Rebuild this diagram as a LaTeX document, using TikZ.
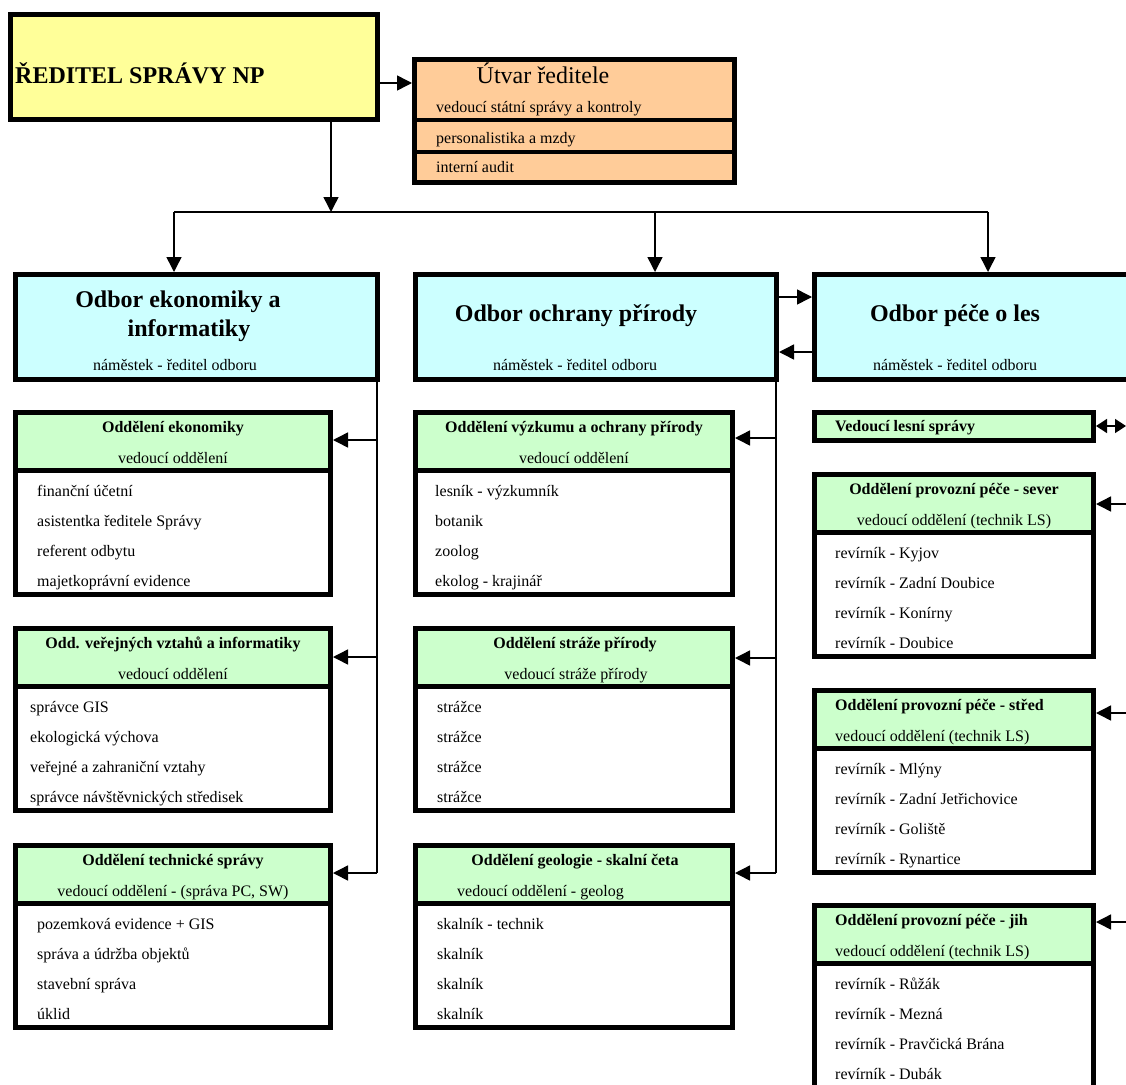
\documentclass[tikz,border=0pt]{standalone}
\usepackage{fontspec}
\setmainfont{Liberation Serif}
\usetikzlibrary{positioning, arrows.meta}

\definecolor{dirfill}{HTML}{FFFF99}
\definecolor{utvarfill}{HTML}{FFCC99}
\definecolor{odborfill}{HTML}{CCFFFF}
\definecolor{headfill}{HTML}{CCFFCC}

\begin{document}
\begin{tikzpicture}[x=1pt, y=-1pt,
    deptframe/.style={draw, line width=5pt, inner sep=0pt, anchor=north west},
    wire/.style={line width=1.5pt},
    link/.style={line width=1.5pt, -{Triangle[length=15pt, width=15pt]}},
    bigtext/.style={font=\bfseries\fontsize{24}{28}\selectfont, inner sep=0pt, anchor=base},
    headtext/.style={font=\bfseries\fontsize{16}{18}\selectfont, inner sep=0pt, anchor=base},
    subtext/.style={font=\fontsize{16}{18}\selectfont, inner sep=0pt, anchor=base},
    itemtext/.style={font=\fontsize{16}{18}\selectfont, inner sep=0pt, anchor=base west}]

    \useasboundingbox (0,0) rectangle (1126,1084);
    \clip (0,0) rectangle (1126,1084);

    % Draw director and his staff unit
    \node[deptframe, fill=dirfill, minimum width=367pt, minimum height=105pt] (dir) at (8,12) {};
    \node[bigtext, anchor=base west] (dirname) at (15,83) {ŘEDITEL SPRÁVY NP};

    \node[deptframe, fill=utvarfill, minimum width=320pt, minimum height=123pt] (utvar) at (412,57) {};
    \draw[line width=4pt] (utvar.west |- 0,120) -- (utvar.east |- 0,120);
    \draw[line width=4pt] (utvar.west |- 0,152) -- (utvar.east |- 0,152);
    \node[font=\fontsize{24}{28}\selectfont, inner sep=0pt, anchor=base] (utvarname) at (543,83) {Útvar ředitele};
    \node[itemtext] (utvar-1) at (436,112) {vedoucí státní správy a kontroly};
    \node[itemtext] (utvar-2) at (436,143) {personalistika a mzdy};
    \node[itemtext] (utvar-3) at (436,172) {interní audit};

    % Draw the three departments
    \node[deptframe, fill=odborfill, minimum width=362pt, minimum height=105pt] (odekon) at (13,272) {};
    \node[deptframe, fill=odborfill, minimum width=361pt, minimum height=105pt] (odochr) at (413,272) {};
    \node[deptframe, fill=odborfill, minimum width=330pt, minimum height=105pt] (odpece) at (812,272) {};

    \node[bigtext] (odekon-t1) at (178,307) {Odbor ekonomiky a};
    \node[bigtext] (odekon-t2) at (189,336) {informatiky};
    \node[subtext] (odekon-s) at (175,370) {náměstek - ředitel odboru};
    \node[bigtext] (odochr-t) at (576,321) {Odbor ochrany přírody};
    \node[subtext] (odochr-s) at (575,370) {náměstek - ředitel odboru};
    \node[bigtext] (odpece-t) at (955,321) {Odbor péče o les};
    \node[subtext] (odpece-s) at (955,370) {náměstek - ředitel odboru};

    % Connectors from the director
    \coordinate (fork) at (331,212);
    \coordinate (forkL) at (174,212);
    \coordinate (forkM) at (655,212);
    \coordinate (forkR) at (988,212);
    \draw[link] (dir.east |- 0,83) -- (utvar.west |- 0,83);
    \draw[link] (dir.south -| fork) -- (fork);
    \draw[wire] (forkL) -- (forkR);
    \foreach \c/\n in {forkL/odekon, forkM/odochr, forkR/odpece}
      \draw[link] (\c) -- (\c |- \n.north);

    \draw[link] (odochr.east |- 0,297) -- (odpece.west |- 0,297);
    \draw[link] (odpece.west |- 0,352) -- (odochr.east |- 0,352);

    % Draw the sections (header + four rows)
    \foreach \n/\x/\y/\w in {ekon/13/410/320, verej/13/626/320, tech/13/843/320,
                             vyzk/413/410/322, straz/413/626/322, geol/413/843/322,
                             sever/812/472/284, stred/812/688/284, jih/812/903/284} {
      \fill[headfill] (\x,\y) rectangle ++(\w,61);
      \node[deptframe, minimum width=\w*1pt-5pt, minimum height=182pt] (\n) at (\x,\y) {};
      \draw[line width=5pt] (\x,\y+60) -- ++(\w,0);
    }

    \node[deptframe, fill=headfill, minimum width=279pt, minimum height=28pt] (vedls) at (812,410) {};
    \node[headtext, anchor=base west] (vedls-t) at (835,431) {Vedoucí lesní správy};

    % Section headers
    \node[headtext] (ekon-t) at (173,432) {Oddělení ekonomiky};
    \node[subtext] (ekon-s) at (173,463) {vedoucí oddělení};
    \node[headtext] (verej-t) at (173,648) {Odd. veřejných vztahů a informatiky};
    \node[subtext] (verej-s) at (173,679) {vedoucí oddělení};
    \node[headtext] (tech-t) at (173,865) {Oddělení technické správy};
    \node[subtext] (tech-s) at (173,896) {vedoucí oddělení - (správa PC, SW)};
    \node[headtext] (vyzk-t) at (574,432) {Oddělení výzkumu a ochrany přírody};
    \node[subtext] (vyzk-s) at (574,463) {vedoucí oddělení};
    \node[headtext] (straz-t) at (575,648) {Oddělení stráže přírody};
    \node[subtext] (straz-s) at (576,679) {vedoucí stráže přírody};
    \node[headtext] (geol-t) at (575,865) {Oddělení geologie - skalní četa};
    \node[itemtext] (geol-s) at (457,896) {vedoucí oddělení - geolog};
    \node[headtext] (sever-t) at (954,494) {Oddělení provozní péče - sever};
    \node[subtext] (sever-s) at (954,525) {vedoucí oddělení (technik LS)};
    \node[headtext, anchor=base west] (stred-t) at (835,710) {Oddělení provozní péče - střed};
    \node[itemtext] (stred-s) at (835,741) {vedoucí oddělení (technik LS)};
    \node[headtext, anchor=base west] (jih-t) at (835,925) {Oddělení provozní péče - jih};
    \node[itemtext] (jih-s) at (835,956) {vedoucí oddělení (technik LS)};

    % Staff of each section
    \foreach \n/\x/\y/\items in {
        ekon/37/410/{finanční účetní, asistentka ředitele Správy, referent odbytu, majetkoprávní evidence},
        verej/30/626/{správce GIS, ekologická výchova, veřejné a zahraniční vztahy, správce návštěvnických středisek},
        tech/37/843/{pozemková evidence + GIS, správa a údržba objektů, stavební správa, úklid},
        vyzk/435/410/{lesník - výzkumník, botanik, zoolog, ekolog - krajinář},
        straz/437/626/{strážce, strážce, strážce, strážce},
        geol/437/843/{skalník - technik, skalník, skalník, skalník},
        sever/835/472/{revírník - Kyjov, revírník - Zadní Doubice, revírník - Konírny, revírník - Doubice},
        stred/835/688/{revírník - Mlýny, revírník - Zadní Jetřichovice, revírník - Goliště, revírník - Rynartice},
        jih/835/903/{revírník - Růžák, revírník - Mezná, revírník - Pravčická Brána, revírník - Dubák}}
      \foreach \t [count=\i] in \items
        \node[itemtext] (\n-\i) at (\x,\y+55.7+30.3*\i) {\t};

    % Connectors to the sections
    \coordinate (spineL) at (377,0);
    \coordinate (spineM) at (776,0);
    \draw[wire] (odekon.south -| spineL) -- (spineL |- 0,873);
    \draw[wire] (odochr.south -| spineM) -- (spineM |- 0,873);
    \foreach \s/\n/\y in {spineL/ekon/440, spineL/verej/657, spineL/tech/873,
                          spineM/vyzk/438, spineM/straz/658, spineM/geol/873}
      \draw[link] (\s |- 0,\y) -- (\n.east |- 0,\y);

    \foreach \n/\y in {sever/504, stred/713, jih/922} {
      \coordinate (\n-in) at (1126,\y);
      \draw[link] (\n-in) -- (\n-in -| \n.east);
    }
    \coordinate (vedls-out) at (1126,426);
    \draw[line width=1.5pt, {Triangle[length=11pt, width=14pt]}-{Triangle[length=11pt, width=14pt]}]
      (vedls.east |- vedls-out) -- (vedls-out);
\end{tikzpicture}
\end{document}
